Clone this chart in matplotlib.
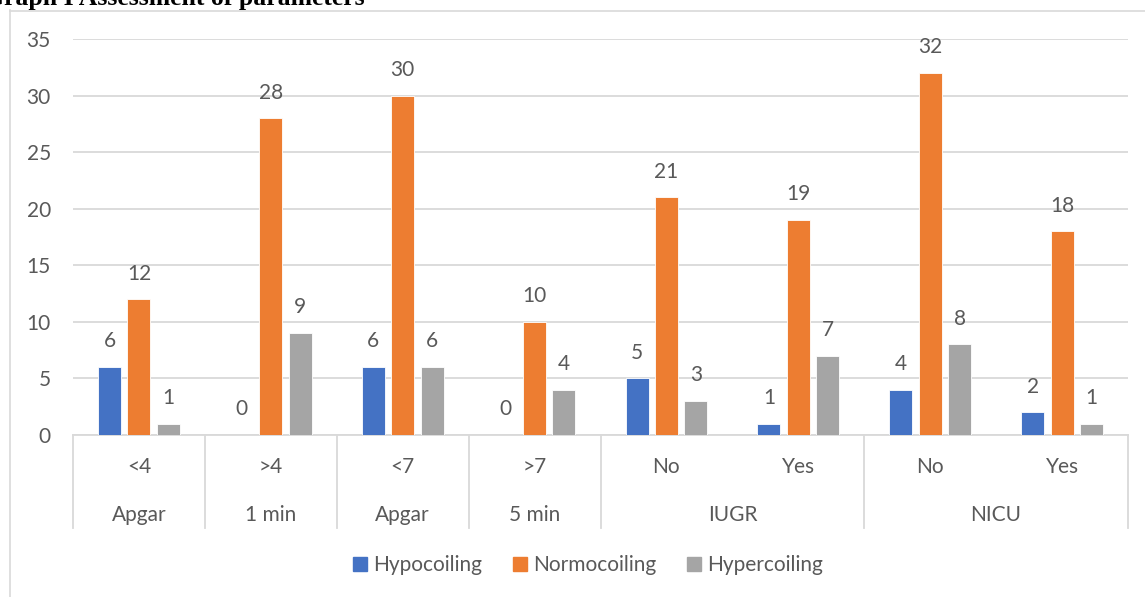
import matplotlib
matplotlib.use("Agg")
import matplotlib.pyplot as plt
import matplotlib.transforms as mtransforms
from matplotlib.patches import Rectangle
from matplotlib.lines import Line2D
import numpy as np

# --- data -------------------------------------------------------------
categories = ["<4", ">4", "<7", ">7", "No", "Yes", "No", "Yes"]
group_labels = ["Apgar", "1 min", "Apgar", "5 min", "IUGR", "NICU"]
group_spans = [(0, 0), (1, 1), (2, 2), (3, 3), (4, 5), (6, 7)]
series_names = ["Hypocoiling", "Normocoiling", "Hypercoiling"]
hypocoiling = [6, 0, 6, 0, 5, 1, 4, 2]
normocoiling = [12, 28, 30, 10, 21, 19, 32, 18]
hypercoiling = [1, 9, 6, 4, 3, 7, 8, 1]
y_ticks = [0, 5, 10, 15, 20, 25, 30, 35]
title = "Graph I Assessment of parameters"

colors = ["#4472C4", "#ED7D31", "#A5A5A5"]
text_color = "#595959"
grid_color = "#D9D9D9"
font = "Lato"
fs = 15

W, H = 1145, 597
fig = plt.figure(figsize=(W / 100, H / 100), dpi=100)

def px_x(x):
    return x / W

def px_y(y):
    return 1 - y / H

# outer chart frame (left and top edges visible)
fig.add_artist(Line2D([px_x(9.5), px_x(9.5)], [px_y(10), 0], color=grid_color, lw=1.2))
fig.add_artist(Line2D([px_x(9.5), 1], [px_y(10.5), px_y(10.5)], color=grid_color, lw=1.2))

# heading text (partly outside the canvas)
fig.text(px_x(-16), px_y(5), title, family="Liberation Serif", fontweight="bold",
         fontsize=18.5, color="black", ha="left", va="baseline")

left, right, top, bottom = 73, 1128, 39, 435
ax = fig.add_axes([px_x(left), px_y(bottom), (right - left) / W, (bottom - top) / H])

series = [hypocoiling, normocoiling, hypercoiling]
x = np.arange(len(categories))
step = 0.223
width = 0.174
for i, (vals, c, name) in enumerate(zip(series, colors, series_names)):
    pos = x + (i - 1) * step
    ax.bar(pos, vals, width=width, color=c, edgecolor="white", linewidth=0.6,
           label=name, zorder=3)
    for xp, v in zip(pos, vals):
        ax.annotate(str(v), (xp, v), xytext=(0, 18.5), textcoords="offset points",
                    ha="center", va="center", fontsize=fs, color=text_color,
                    family=font)

ax.set_xlim(-0.5, len(categories) - 0.5)
ax.set_ylim(0, 35)
ax.set_yticks(y_ticks)
ax.yaxis.grid(True, color=grid_color, lw=1.3, zorder=0)
ax.set_axisbelow(True)
for s in ["top", "right", "left"]:
    ax.spines[s].set_visible(False)
ax.spines["bottom"].set_color(grid_color)
ax.spines["bottom"].set_linewidth(1.3)
ax.tick_params(axis="y", length=0, pad=16, labelsize=fs, labelcolor=text_color)
for lab in ax.get_yticklabels():
    lab.set_family(font)
ax.set_xticks([])

# two-level category axis
trans = mtransforms.blended_transform_factory(ax.transData, fig.transFigure)
boundaries = sorted({s - 0.5 for s, e in group_spans} | {len(categories) - 0.5})
for b in boundaries:
    ax.add_artist(Line2D([b, b], [px_y(435), px_y(528)], transform=trans,
                         color=grid_color, lw=1.3, clip_on=False))
for xi, cat in zip(x, categories):
    ax.text(xi, px_y(467), cat, transform=trans, ha="center", va="center",
            fontsize=fs, color=text_color, family=font)
for (s, e), g in zip(group_spans, group_labels):
    ax.text((s + e) / 2, px_y(515), g, transform=trans, ha="center", va="center",
            fontsize=fs, color=text_color, family=font)

handles = [Rectangle((0, 0), 1, 1, color=c) for c in colors]
leg = fig.legend(handles, series_names, loc="center", bbox_to_anchor=(px_x(588), px_y(565)),
                 ncol=3, frameon=False, handlelength=0.65, handleheight=0.65,
                 handletextpad=0.3, columnspacing=1.5,
                 prop={"family": font, "size": fs})
for t in leg.get_texts():
    t.set_color(text_color)

fig.savefig("out.png", dpi=100)
